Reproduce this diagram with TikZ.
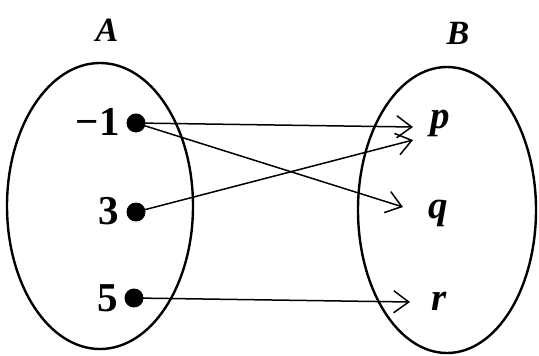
\documentclass[tikz,border=0pt]{standalone}
\usepackage{fontspec}
\setmainfont{Liberation Serif}
\usetikzlibrary{arrows.meta}
\begin{document}
\begin{tikzpicture}[x=1pt,y=-1pt,
  setbox/.style={draw,line width=2.4pt},
  dotnode/.style={circle,fill=black,inner sep=0pt,minimum size=19pt},
  numlabel/.style={anchor=base east,inner sep=0pt,font=\fontsize{41}{45}\selectfont\bfseries},
  letlabel/.style={anchor=base west,inner sep=0pt,font=\fontsize{39}{43}\selectfont\bfseries\itshape},
  setlabel/.style={inner sep=0pt,font=\fontsize{34}{38}\selectfont\bfseries\itshape},
  maparrow/.style={line width=1.5pt,-{Straight Barb[length=15pt,width=22pt,line width=1.5pt]}}]
\useasboundingbox (0,0) rectangle (539,356);
% sets
\draw[setbox] (100,206) ellipse [x radius=93, y radius=143];
\draw[setbox] (447,210) ellipse [x radius=89, y radius=143];
\node[setlabel] (lA) at (107,30) {A};
\node[setlabel] (lB) at (458,33) {B};
% elements of A
\node[dotnode] (m1) at (136,123) {};
\node[dotnode] (t3) at (136,212) {};
\node[dotnode] (f5) at (134,298) {};
\node[numlabel] (lm1) at (120,135) {\textminus1};
\node[numlabel] (lt3) at (119,224) {3};
\node[numlabel] (lf5) at (118,311) {5};
% elements of B
\node[letlabel] (p) at (430,128) {p};
\node[letlabel] (q) at (428,218) {q};
\node[letlabel] (r) at (431,310) {r};
% arrow ends
\coordinate (ep1) at (413,127);
\coordinate (ep2) at (413,140);
\coordinate (eq) at (403,207);
\coordinate (er) at (410,302);
% mapping
\draw[maparrow] (m1.center) -- (ep1);
\draw[maparrow] (t3.center) -- (ep2);
\draw[maparrow] (m1.center) -- (eq);
\draw[maparrow] (f5.center) -- (er);
\end{tikzpicture}
\end{document}
